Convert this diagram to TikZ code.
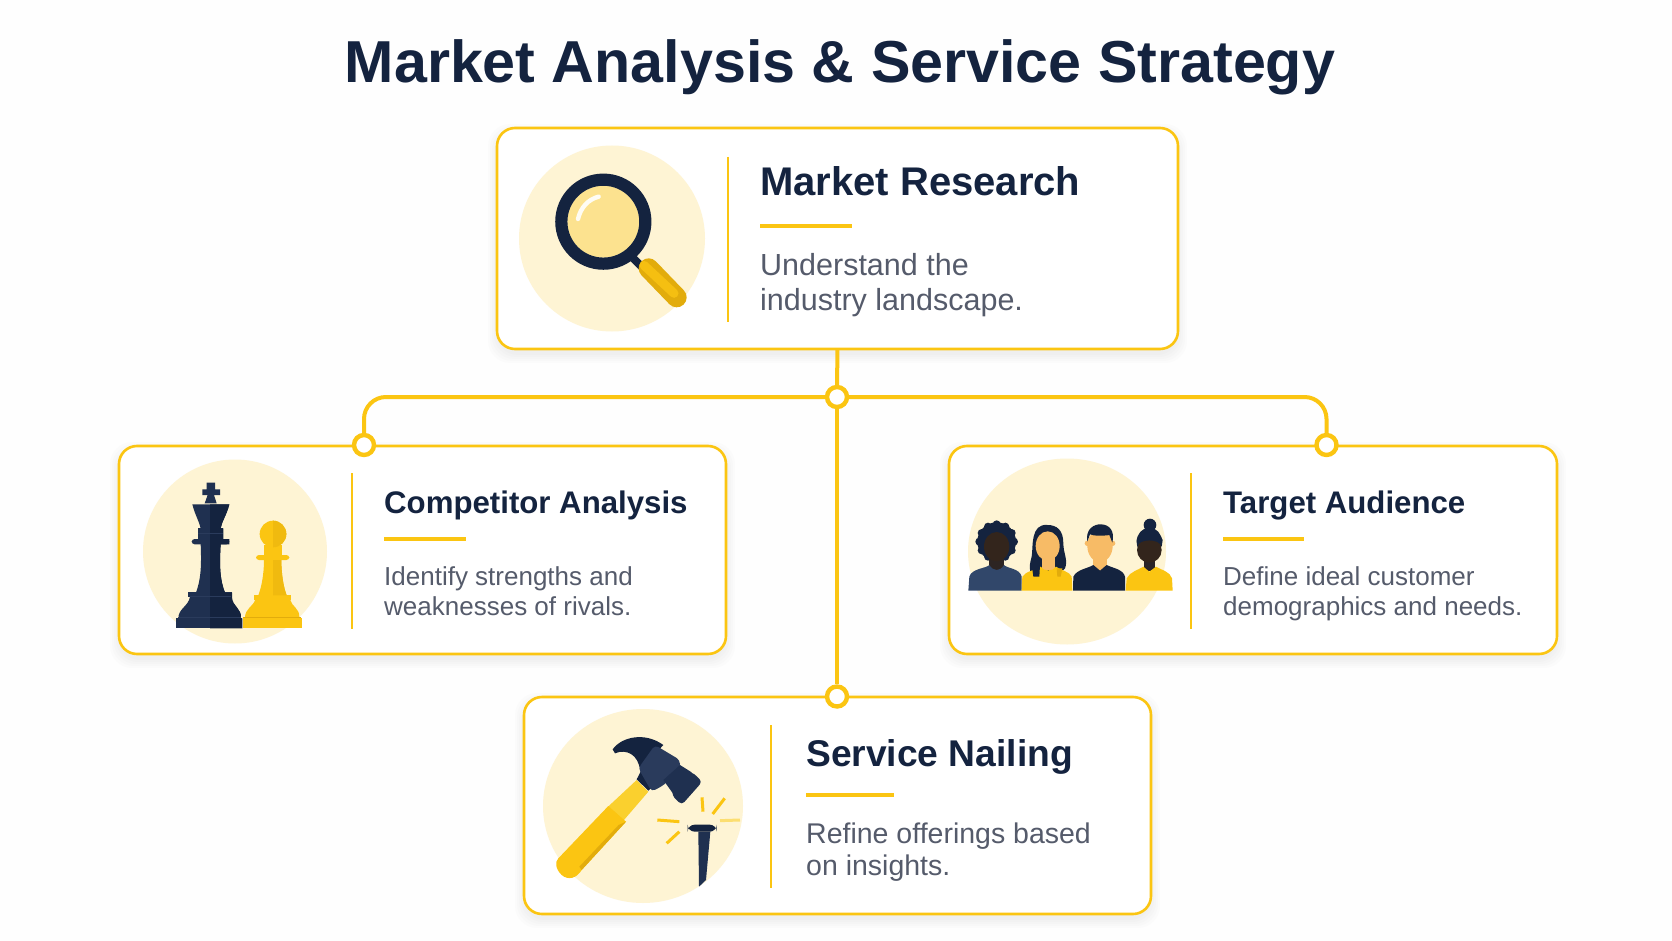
\documentclass[tikz,border=0pt]{standalone}
\usepackage{fontspec}
\setmainfont{Liberation Sans}
\usetikzlibrary{calc}
\definecolor{navy}{HTML}{14233F}
\definecolor{navyb}{HTML}{1F3050}
\definecolor{navyc}{HTML}{2A3B5C}
\definecolor{blu}{HTML}{31476A}
\definecolor{gold}{HTML}{FBC512}
\definecolor{golddk}{HTML}{E2AC0C}
\definecolor{goldlt}{HTML}{FAD02E}
\definecolor{cream}{HTML}{FEF4D4}
\definecolor{lens}{HTML}{FCE28F}
\definecolor{skin}{HTML}{F7BB66}
\definecolor{dkskin}{HTML}{33251C}
\definecolor{bodyc}{HTML}{555B6B}
\definecolor{page}{HTML}{FEFEFE}
\tikzset{
  x=1pt,y=-1pt,
  card/.style={draw=gold,line width=2.6pt,fill=white,rounded corners=18pt,inner sep=0pt,outer sep=0pt},
  wire/.style={draw=gold,line width=4pt},
  joint/.style={circle,draw=gold,line width=4.4pt,fill=white,minimum size=20pt,inner sep=0pt},
  divider/.style={draw=gold,line width=1.7pt},
  rulebar/.style={draw=gold,line width=4pt},
  halo/.style={fill=cream},
  headline/.style={anchor=base,font=\bfseries\fontsize{59.2}{60}\selectfont,text=navy,inner sep=0pt},
  cardtitle/.style={anchor=base west,font=\bfseries\fontsize{#1}{#1}\selectfont,text=navy,inner sep=0pt},
  carddesc/.style 2 args={anchor=base west,align=left,font=\fontsize{#1}{#2}\selectfont,text=bodyc,inner sep=0pt},
  zoomed/.style={x=0.33333pt,y=-0.33333pt},
}
\newcommand{\softshadow}[4]{%
  \foreach \s in {9,7,5,3,1}{%
    \fill[black,opacity=.010,rounded corners=22pt] (#1-\s,#2-\s+5) rectangle (#3+\s,#4+\s+5);}}
\begin{document}
\begin{tikzpicture}
\useasboundingbox (0,0) rectangle (1672,941);
\fill[page] (0,0) rectangle (1672,941);
\node[headline] (heading) at (840,83) {Market Analysis \& Service Strategy};
% shadows
\softshadow{497}{128}{1178}{349}
\softshadow{119}{446}{726}{654}
\softshadow{949}{446}{1557}{654}
\softshadow{524}{697}{1151}{914}
% cards
\node[card,minimum width=681pt,minimum height=221pt] (research) at (837.5,238.5) {};
\node[card,minimum width=607pt,minimum height=208pt] (rivals) at (422.5,550) {};
\node[card,minimum width=608pt,minimum height=208pt] (audience) at (1253,550) {};
\node[card,minimum width=627pt,minimum height=217pt] (nailing) at (837.5,805.5) {};
% junctions
\node[joint] (hub) at (837,397) {};
\node[joint] (jleft) at (364,445) {};
\node[joint] (jright) at (1326.5,445) {};
\node[joint] (jbottom) at (837,696.5) {};
\draw[wire] (research.south) -- (hub.north);
\draw[wire] (hub.south) -- (jbottom.north);
\draw[wire,rounded corners=22pt] (hub.west) -| (jleft.north);
\draw[wire,rounded corners=22pt] (hub.east) -| (jright.north);
% halos and dividers
\fill[halo] (612,238.5) circle [radius=93];
\fill[halo] (235,551.5) circle [radius=92];
\fill[halo] (1067,551.5) ellipse [x radius=99,y radius=93];
\fill[halo] (643,806) ellipse [x radius=100,y radius=97];
\draw[divider] (728,157) -- (728,322);
\draw[divider] (352,473) -- (352,629);
\draw[divider] (1191,473) -- (1191,629);
\draw[divider] (771,725) -- (771,888);
% texts
\node[cardtitle=40] (t1) at (760,196) {Market Research};
\draw[rulebar] (760,226) -- (852,226);
\node[carddesc={30.5}{35}] (d1) at (760,310) {Understand the\\industry landscape.};
\node[cardtitle=31.2] (t2) at (384,513) {Competitor Analysis};
\draw[rulebar] (384,539) -- (466,539);
\node[carddesc={26}{30}] (d2) at (384,615) {Identify strengths and\\weaknesses of rivals.};
\node[cardtitle=31.2] (t3) at (1223,513) {Target Audience};
\draw[rulebar] (1223,539) -- (1304,539);
\node[carddesc={26}{30}] (d3) at (1223,615) {Define ideal customer\\demographics and needs.};
\node[cardtitle=37.2] (t4) at (806,766) {Service Nailing};
\draw[rulebar] (806,795) -- (894,795);
\node[carddesc={28.5}{32}] (d4) at (806,875) {Refine offerings based\\on insights.};
% magnifier
\begin{scope}[shift={(490,120)},zoomed]
  \draw[navy,line width=8pt] (430,415) -- (480,465);
  \fill[lens] (340,305) circle [radius=108];
  \draw[white,line width=4.4pt,line cap=round,opacity=.9] (264,297) .. controls (272,262) and (295,238) .. (326,230);
  \draw[navy,line width=12.2pt] (340,305) circle [radius=126];
  \draw[golddk,line width=20pt,line cap=round] (476,445) -- (560,532);
  \draw[gold!75!golddk,line width=9pt,line cap=round] (462,436) -- (552,520);
\end{scope}
% chess
\begin{scope}[shift={(110,440)},zoomed]
  \fill[navyb] (198,535) rectangle (397,565);
  \fill[navyb] (205,535) .. controls (205,505) and (235,500) .. (240,470) -- (362,470) .. controls (368,500) and (395,505) .. (393,535) -- cycle;
  \fill[navyb] (235,456) rectangle (366,472);
  \fill[navyb] (272,312) .. controls (275,380) and (272,420) .. (258,458) -- (345,458) .. controls (330,420) and (328,380) .. (332,312) -- cycle;
  \fill[navyb,rounded corners=3pt] (245,297) rectangle (358,313);
  \fill[navyb] (265,265) rectangle (340,297);
  \fill[navyb] (247,193) -- (358,193) .. controls (350,225) and (335,245) .. (332,265) -- (272,265) .. controls (268,245) and (255,225) .. (247,193) -- cycle;
  \fill[navyb] (284,190) -- (320,190) -- (312,165) -- (330,165) -- (330,148) -- (315,148) -- (315,128) -- (290,128) -- (290,148) -- (277,148) -- (277,165) -- (293,165) -- cycle;
  \fill[navy] (300,193) -- (358,193) .. controls (350,225) and (335,245) .. (332,265) -- (340,265) -- (340,297) -- (358,297) -- (358,313) -- (332,313) .. controls (328,380) and (330,420) .. (345,458) -- (366,458) -- (366,472) .. controls (368,500) and (395,505) .. (393,535) -- (397,535) -- (397,565) -- (300,565) -- cycle;
  \draw[navyc,line width=1pt] (265,280) -- (340,280) (240,470) -- (362,470) (205,533) -- (393,533);
  % pawn
  \fill[gold] (398,535) rectangle (575,563);
  \fill[gold] (405,533) .. controls (405,505) and (430,500) .. (436,478) -- (540,478) .. controls (545,500) and (570,505) .. (568,533) -- cycle;
  \fill[gold] (432,464) rectangle (543,480);
  \fill[gold] (462,360) .. controls (462,400) and (455,440) .. (445,466) -- (530,466) .. controls (520,440) and (514,400) .. (514,360) -- cycle;
  \fill[gold,rounded corners=3pt] (438,345) rectangle (538,360);
  \fill[gold] (462,315) rectangle (516,346);
  \fill[gold] (489,282) circle [radius=40];
  \fill[golddk!45!gold] (489,242) arc (-90:90:40) -- cycle;
  \fill[golddk!45!gold] (489,360) -- (514,360) .. controls (514,400) and (520,440) .. (530,466) -- (489,466) -- cycle;
  \fill[golddk] (400,530) rectangle (573,535);
\end{scope}
% people
\begin{scope}[shift={(950,440)},zoomed]
  % person 1
  \fill[navy] (140,305) circle [radius=58];
  \foreach \a in {0,30,...,330}{\fill[navy] ($(140,305)+(\a:52)$) circle [radius=12];}
  \fill[dkskin!80!navy] (118,340) rectangle (162,395);
  \fill[dkskin] (140,320) ellipse [x radius=38,y radius=44];
  \fill[blu] (55,452) -- (58,410) .. controls (65,385) and (110,385) .. (118,375) .. controls (130,395) and (150,395) .. (162,375) .. controls (170,385) and (210,385) .. (215,410) -- (215,452) -- cycle;
  % person 2
  \fill[navy] (293,255) .. controls (240,250) and (250,320) .. (245,350) .. controls (240,370) and (235,380) .. (245,410) -- (268,410) -- (320,410) -- (345,385) .. controls (355,360) and (340,340) .. (340,310) .. controls (340,270) and (320,255) .. (293,255) -- cycle;
  \fill[skin] (275,340) rectangle (315,390);
  \fill[skin] (293,318) ellipse [x radius=36,y radius=44];
  \fill[gold] (215,452) -- (217,410) .. controls (225,395) and (255,390) .. (272,380) .. controls (280,395) and (310,395) .. (318,380) .. controls (330,390) and (360,395) .. (365,410) -- (367,452) -- cycle;
  \fill[navy] (245,375) -- (270,375) -- (268,410) -- (250,410) -- cycle;
  \fill[golddk] (320,385) -- (337,385) -- (332,410) -- (322,410) -- cycle;
  % person 3
  \fill[skin] (430,340) rectangle (470,395);
  \fill[skin] (450,318) ellipse [x radius=38,y radius=48];
  \fill[skin] (412,310) circle [radius=8] (488,310) circle [radius=8];
  \fill[navy] (412,305) .. controls (405,265) and (435,252) .. (452,253) .. controls (480,253) and (495,275) .. (487,308) -- (478,285) .. controls (460,288) and (430,288) .. (420,283) -- cycle;
  \fill[navy] (369,452) -- (370,410) .. controls (380,388) and (415,385) .. (430,375) -- (450,392) -- (470,375) .. controls (490,385) and (520,388) .. (525,410) -- (525,452) -- cycle;
  % person 4
  \fill[navy] (600,255) circle [radius=19];
  \fill[navy] (598,305) ellipse [x radius=38,y radius=42];
  \fill[dkskin!70!navy] (582,350) rectangle (616,392);
  \fill[dkskin] (598,330) ellipse [x radius=37,y radius=38];
  \fill[navy] (562,320) .. controls (565,295) and (630,295) .. (635,320) -- (638,300) .. controls (630,270) and (570,270) .. (560,300) -- cycle;
  \fill[gold] (527,452) -- (530,415) .. controls (540,395) and (565,390) .. (580,380) -- (598,395) -- (618,380) .. controls (635,390) and (660,395) .. (666,415) -- (668,452) -- cycle;
\end{scope}
% hammer and nail
\begin{scope}[shift={(520,690)},zoomed]
  \fill[goldlt] (350,270) -- (385,305) -- (305,398) -- (262,352) -- cycle;
  \fill[gold] (265,348) -- (318,395) -- (185,540) .. controls (170,565) and (145,572) .. (125,555) .. controls (105,535) and (105,515) .. (115,505) -- cycle;
  \fill[golddk] (296,405) -- (318,395) -- (185,540) -- (178,530) -- cycle;
  \fill[navy] (350,268) -- (385,302) -- (420,270) -- (375,220) -- cycle;
  \fill[navy] (278,178) .. controls (305,140) and (375,125) .. (430,165) -- (360,240) .. controls (355,195) and (320,175) .. (285,190) -- cycle;
  \fill[navyc,rounded corners=4pt] (355,235) -- (405,165) -- (480,210) -- (480,235) -- (432,285) -- (395,305) -- cycle;
  \fill[navyb,rounded corners=4pt] (470,255) -- (515,245) -- (547,275) -- (485,345) -- (455,315) -- cycle;
  \fill[navyb] (430,270) -- (480,225) -- (515,247) -- (460,312) -- cycle;
  \draw[gold,line width=3pt] (412,390) -- (478,395);
  \draw[gold,line width=3pt] (440,460) -- (478,425);
  \draw[gold,line width=3pt] (546,322) -- (549,365);
  \draw[gold,line width=3pt] (578,372) -- (614,325);
  \draw[goldlt!60!cream,line width=3pt] (600,392) -- (660,390);
  \fill[navyb] (535,425) -- (571,425) -- (558,570) -- (537,590) -- cycle;
  \fill[navy,rounded corners=7pt] (503,404) -- (590,404) -- (590,425) -- (503,425) -- cycle;
\end{scope}
\end{tikzpicture}
\end{document}
